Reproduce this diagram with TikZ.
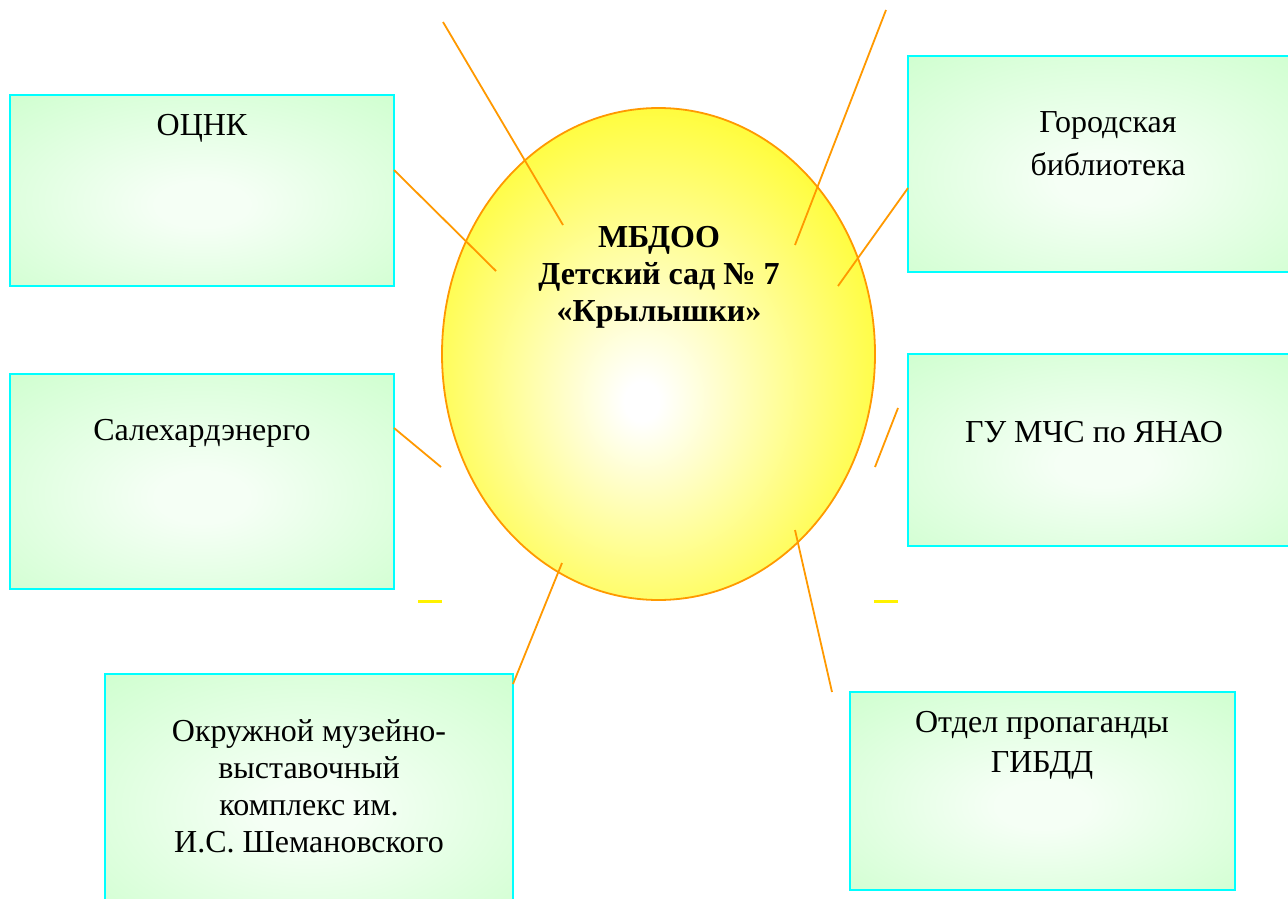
\documentclass[tikz,border=0pt]{standalone}
\usepackage{fontspec}
\setmainfont{Liberation Serif}
\usetikzlibrary{shapes.geometric}
\definecolor{boxg}{RGB}{204,255,204}
\definecolor{boxw}{RGB}{245,255,245}
\definecolor{lineor}{RGB}{255,153,0}
\definecolor{ellyel}{RGB}{255,252,30}
\definecolor{cyanb}{RGB}{0,255,255}
\pgfdeclareradialshading{boxsh}{\pgfpoint{0bp}{-4bp}}{color(0bp)=(boxw); color(6bp)=(boxw); color(40bp)=(boxg); color(70bp)=(boxg)}
\pgfdeclareradialshading{ellsh}{\pgfpoint{-2bp}{-5bp}}{color(0bp)=(white); color(2bp)=(white); color(32bp)=(ellyel); color(60bp)=(ellyel)}
\tikzset{
  partner/.style={draw=cyanb, line width=2pt, shading=boxsh, rectangle, inner sep=0pt},
  lbl/.style={font=\fontsize{32}{37}\selectfont, align=center, inner sep=0pt},
  conn/.style={draw=lineor, line width=1.8pt},
  yelmark/.style={draw=yellow, line width=3pt}
}
\begin{document}
\begin{tikzpicture}[x=1pt,y=-1pt]
\clip (0,0) rectangle (1288,899);
\fill[white] (0,0) rectangle (1288,899);
% boxes
\node[partner, minimum width=384pt, minimum height=191pt] (b1) at (202,190.5) {};
\node[partner, minimum width=384pt, minimum height=215pt] (b2) at (202,481.5) {};
\node[partner, minimum width=408pt, minimum height=240pt] (b3) at (309,794) {};
\node[partner, minimum width=392pt, minimum height=216pt] (b4) at (1104,164) {};
\node[partner, minimum width=392pt, minimum height=192pt] (b5) at (1104,450) {};
\node[partner, minimum width=385pt, minimum height=198pt] (b6) at (1042.5,791) {};
% ellipse
\node[ellipse, draw=lineor, line width=1.8pt, shading=ellsh, minimum width=433pt, minimum height=492pt, inner sep=0pt] (el) at (658.5,354) {};
% texts
\node[lbl] (t1) at (202,128) {ОЦНК};
\node[lbl] (t2) at (202,433) {Салехардэнерго};
\node[lbl, font=\fontsize{32}{37}\selectfont] (t3) at (309,786) {Окружной музейно-\\выставочный\\комплекс им.\\И.С. Шемановского};
\node[lbl, font=\fontsize{32}{43}\selectfont] (t4) at (1108,144) {Городская\\библиотека};
\node[lbl] (t5) at (1094,432) {ГУ МЧС по ЯНАО};
\node[lbl, font=\fontsize{32}{40}\selectfont] (t6) at (1042,745) {Отдел пропаганды\\ГИБДД};
\node[lbl, font=\bfseries\fontsize{32}{37}\selectfont] (tc) at (659,277) {МБДОО\\Детский сад № 7\\«Крылышки»};
% connector endpoints
\coordinate (p1a) at (443,22);  \coordinate (p1b) at (563,225);
\coordinate (p2a) at (886,10);  \coordinate (p2b) at (795,245);
\coordinate (p3a) at (394,170); \coordinate (p3b) at (496,271);
\coordinate (p4a) at (908,188); \coordinate (p4b) at (838,286);
\coordinate (p5a) at (394,428); \coordinate (p5b) at (441,467);
\coordinate (p6a) at (898,408); \coordinate (p6b) at (875,467);
\coordinate (p7a) at (562,563); \coordinate (p7b) at (513,684);
\coordinate (p8a) at (795,530); \coordinate (p8b) at (832,692);
\coordinate (d1a) at (418,601); \coordinate (d1b) at (442,601);
\coordinate (d2a) at (874,601); \coordinate (d2b) at (898,601);
\draw[conn] (p1a) -- (p1b);
\draw[conn] (p2a) -- (p2b);
\draw[conn] (p3a) -- (p3b);
\draw[conn] (p4a) -- (p4b);
\draw[conn] (p5a) -- (p5b);
\draw[conn] (p6a) -- (p6b);
\draw[conn] (p7a) -- (p7b);
\draw[conn] (p8a) -- (p8b);
\draw[yelmark] (d1a) -- (d1b);
\draw[yelmark] (d2a) -- (d2b);
\end{tikzpicture}
\end{document}
